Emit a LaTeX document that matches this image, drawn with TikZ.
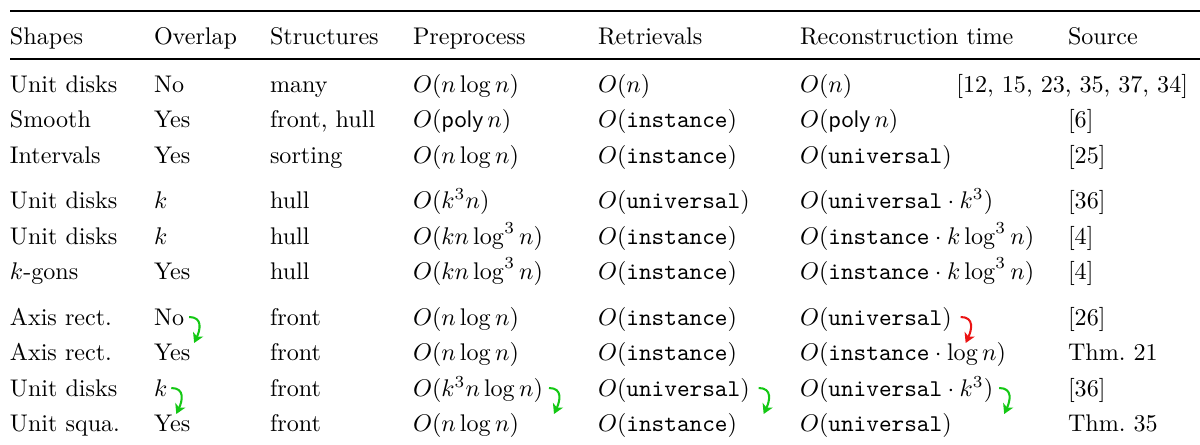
\documentclass[tikz,border=0pt]{standalone}
\usetikzlibrary{arrows.meta}
\definecolor{agreen}{RGB}{20,200,20}
\definecolor{ared}{RGB}{235,20,20}
\begin{document}
\begin{tikzpicture}[x=0.415pt,y=-0.415pt,
  cell/.style={anchor=base west,inner sep=0pt,outer sep=0pt},
  cellr/.style={anchor=base east,inner sep=0pt,outer sep=0pt},
  hint/.style={line width=0.85pt,-{Stealth[length=4pt,width=4.6pt,inset=1.1pt]}},
  ghint/.style={hint,draw=agreen},
  rhint/.style={hint,draw=ared},
  toprul/.style={line width=0.8pt},
  midrul/.style={line width=0.5pt}]
\useasboundingbox (0,0) rectangle (1200,444);
% column positions
\def\ca{10}\def\cb{154}\def\cc{270}\def\cd{413}\def\ce{598}\def\cf{800}\def\cg{1068}
% row baselines
\def\ra{92}\def\rb{127.5}\def\rc{163}\def\rd{208.5}\def\re{244}\def\rf{279.5}\def\rg{325}\def\rh{360.5}\def\ri{396}\def\rj{431.5}
% rules
\coordinate (tl) at (10,11); \coordinate (tr) at (1200,11);
\coordinate (ml) at (10,59); \coordinate (mr) at (1200,59);
\draw[toprul] (tl) -- (tr);
\draw[midrul] (ml) -- (mr);
% header
\node[cell] (h1) at (\ca,44) {Shapes};
\node[cell] (h2) at (\cb,44) {Overlap};
\node[cell] (h3) at (\cc,44) {Structures};
\node[cell] (h4) at (\cd,44) {Preprocess};
\node[cell] (h5) at (\ce,44) {Retrievals};
\node[cell] (h6) at (\cf,44) {Reconstruction time};
\node[cell] (h7) at (\cg,44) {Source};
% group 1
\node[cell] (c11) at (\ca,\ra) {Unit disks};
\node[cell] (c12) at (\cb,\ra) {No};
\node[cell] (c13) at (\cc,\ra) {many};
\node[cell] (c14) at (\cd,\ra) {$O(n\log n)$};
\node[cell] (c15) at (\ce,\ra) {$O(n)$};
\node[cell] (c16) at (\cf,\ra) {$O(n)$};
\node[cellr] (c17) at (1188,\ra) {[12, 15, 23, 35, 37, 34]};
\node[cell] (c21) at (\ca,\rb) {Smooth};
\node[cell] (c22) at (\cb,\rb) {Yes};
\node[cell] (c23) at (\cc,\rb) {front, hull};
\node[cell] (c24) at (\cd,\rb) {$O(\textsf{poly}\,n)$};
\node[cell] (c25) at (\ce,\rb) {$O(\texttt{instance})$};
\node[cell] (c26) at (\cf,\rb) {$O(\textsf{poly}\,n)$};
\node[cell] (c27) at (\cg,\rb) {[6]};
\node[cell] (c31) at (\ca,\rc) {Intervals};
\node[cell] (c32) at (\cb,\rc) {Yes};
\node[cell] (c33) at (\cc,\rc) {sorting};
\node[cell] (c34) at (\cd,\rc) {$O(n\log n)$};
\node[cell] (c35) at (\ce,\rc) {$O(\texttt{instance})$};
\node[cell] (c36) at (\cf,\rc) {$O(\texttt{universal})$};
\node[cell] (c37) at (\cg,\rc) {[25]};
% group 2
\node[cell] (c41) at (\ca,\rd) {Unit disks};
\node[cell] (c42) at (\cb,\rd) {$k$};
\node[cell] (c43) at (\cc,\rd) {hull};
\node[cell] (c44) at (\cd,\rd) {$O(k^3n)$};
\node[cell] (c45) at (\ce,\rd) {$O(\texttt{universal})$};
\node[cell] (c46) at (\cf,\rd) {$O(\texttt{universal}\cdot k^3)$};
\node[cell] (c47) at (\cg,\rd) {[36]};
\node[cell] (c51) at (\ca,\re) {Unit disks};
\node[cell] (c52) at (\cb,\re) {$k$};
\node[cell] (c53) at (\cc,\re) {hull};
\node[cell] (c54) at (\cd,\re) {$O(kn\log^3 n)$};
\node[cell] (c55) at (\ce,\re) {$O(\texttt{instance})$};
\node[cell] (c56) at (\cf,\re) {$O(\texttt{instance}\cdot k\log^3 n)$};
\node[cell] (c57) at (\cg,\re) {[4]};
\node[cell] (c61) at (\ca,\rf) {$k$-gons};
\node[cell] (c62) at (\cb,\rf) {Yes};
\node[cell] (c63) at (\cc,\rf) {hull};
\node[cell] (c64) at (\cd,\rf) {$O(kn\log^3 n)$};
\node[cell] (c65) at (\ce,\rf) {$O(\texttt{instance})$};
\node[cell] (c66) at (\cf,\rf) {$O(\texttt{instance}\cdot k\log^3 n)$};
\node[cell] (c67) at (\cg,\rf) {[4]};
% group 3
\node[cell] (c71) at (\ca,\rg) {Axis rect.};
\node[cell] (c72) at (\cb,\rg) {No};
\node[cell] (c73) at (\cc,\rg) {front};
\node[cell] (c74) at (\cd,\rg) {$O(n\log n)$};
\node[cell] (c75) at (\ce,\rg) {$O(\texttt{instance})$};
\node[cell] (c76) at (\cf,\rg) {$O(\texttt{universal})$};
\node[cell] (c77) at (\cg,\rg) {[26]};
\node[cell] (c81) at (\ca,\rh) {Axis rect.};
\node[cell] (c82) at (\cb,\rh) {Yes};
\node[cell] (c83) at (\cc,\rh) {front};
\node[cell] (c84) at (\cd,\rh) {$O(n\log n)$};
\node[cell] (c85) at (\ce,\rh) {$O(\texttt{instance})$};
\node[cell] (c86) at (\cf,\rh) {$O(\texttt{instance}\cdot\log n)$};
\node[cell] (c87) at (\cg,\rh) {Thm.~21};
\node[cell] (c91) at (\ca,\ri) {Unit disks};
\node[cell] (c92) at (\cb,\ri) {$k$};
\node[cell] (c93) at (\cc,\ri) {front};
\node[cell] (c94) at (\cd,\ri) {$O(k^3n\log n)$};
\node[cell] (c95) at (\ce,\ri) {$O(\texttt{universal})$};
\node[cell] (c96) at (\cf,\ri) {$O(\texttt{universal}\cdot k^3)$};
\node[cell] (c97) at (\cg,\ri) {[36]};
\node[cell] (c101) at (\ca,\rj) {Unit squa.};
\node[cell] (c102) at (\cb,\rj) {Yes};
\node[cell] (c103) at (\cc,\rj) {front};
\node[cell] (c104) at (\cd,\rj) {$O(n\log n)$};
\node[cell] (c105) at (\ce,\rj) {$O(\texttt{instance})$};
\node[cell] (c106) at (\cf,\rj) {$O(\texttt{universal})$};
\node[cell] (c107) at (\cg,\rj) {Thm.~35};
% hint arrows
\path ([shift={(5,-8)}]c72.base east) coordinate (a1s) ++(5,26) coordinate (a1e);
\path ([shift={(4,-8)}]c92.base east) coordinate (a2s) ++(5,26) coordinate (a2e);
\path ([shift={(6,-8)}]c94.base east) coordinate (a3s) ++(5,26) coordinate (a3e);
\path ([shift={(9,-8)}]c95.base east) coordinate (a4s) ++(5,26) coordinate (a4e);
\path ([shift={(6,-8)}]c96.base east) coordinate (a5s) ++(5,26) coordinate (a5e);
\path ([shift={(9,-8)}]c76.base east) coordinate (a6s) ++(5,26) coordinate (a6e);
\draw[ghint] (a1s) .. controls +(14,0) and +(6,-13) .. (a1e);
\draw[ghint] (a2s) .. controls +(14,0) and +(6,-13) .. (a2e);
\draw[ghint] (a3s) .. controls +(14,0) and +(6,-13) .. (a3e);
\draw[ghint] (a4s) .. controls +(14,0) and +(6,-13) .. (a4e);
\draw[ghint] (a5s) .. controls +(14,0) and +(6,-13) .. (a5e);
\draw[rhint] (a6s) .. controls +(14,0) and +(6,-13) .. (a6e);
\end{tikzpicture}
\end{document}
